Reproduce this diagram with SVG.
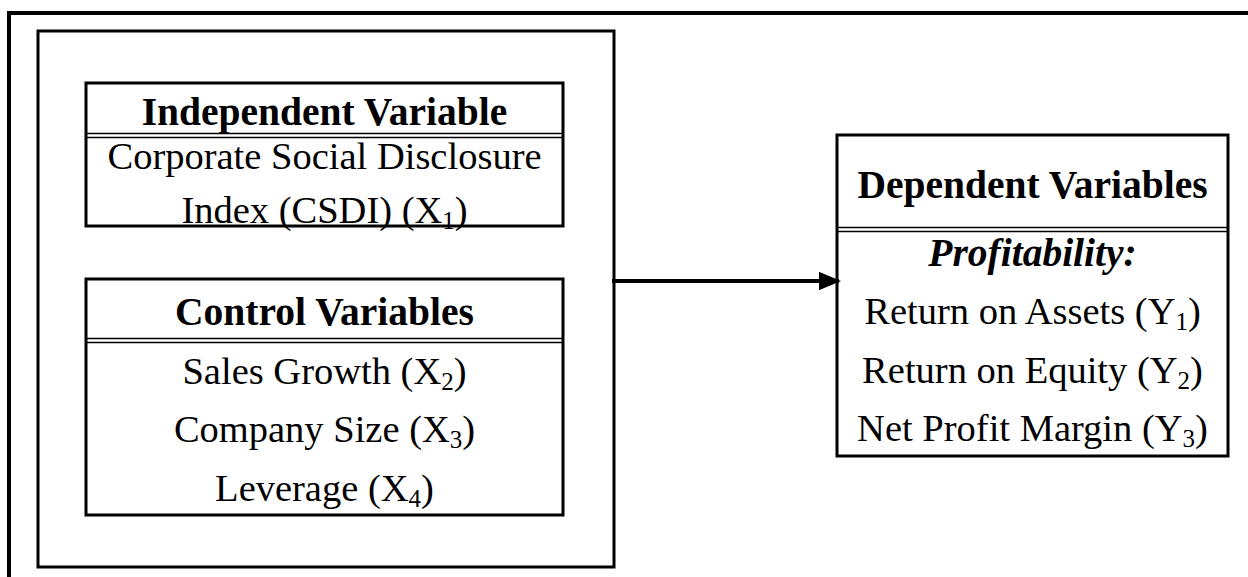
<svg xmlns="http://www.w3.org/2000/svg" width="1248" height="577" viewBox="0 0 1248 577">
  <style>
    .box { fill: #ffffff; stroke: #000000; stroke-width: 3; }
    .sep { stroke: #000000; stroke-width: 1.5; fill: none; }
    .t { font-family: "Liberation Serif", "Times New Roman", serif; font-size: 38.5px; fill: #000000; text-anchor: middle; }
    .b { font-weight: bold; font-size: 39.5px; }
    .bi { font-weight: bold; font-style: italic; font-size: 39.5px; }
    .sub { font-size: 25px; }
    .wire { stroke: #000000; stroke-width: 4; fill: none; }
  </style>
  <defs>
    <marker id="arrow" markerWidth="5.5" markerHeight="4.6" refX="5" refY="2.3" orient="auto" markerUnits="strokeWidth">
      <path d="M0,0 L5.5,2.3 L0,4.6 Z" fill="#000000"/>
    </marker>
  </defs>

  <rect width="1248" height="577" fill="#ffffff"/>

  <!-- outer frame, running past the right and bottom edges -->
  <rect x="9" y="13" width="1260" height="600" fill="none" stroke="#000000" stroke-width="4"/>

  <!-- enclosing box for the explanatory variables -->
  <g id="explanatory-group">
    <rect class="box" x="38" y="31" width="576" height="536"/>
  </g>

  <g id="independent-variable">
    <rect class="box" x="86" y="83" width="477" height="143"/>
    <line class="sep" x1="86" y1="133.5" x2="563" y2="133.5"/>
    <line class="sep" x1="86" y1="137.5" x2="563" y2="137.5"/>
    <text class="t b" x="324.5" y="125">Independent Variable</text>
    <text class="t" x="324.5" y="169">Corporate Social Disclosure</text>
    <text class="t" x="324.5" y="223">Index (CSDI) (X<tspan class="sub" dy="6">1</tspan><tspan dy="-6">)</tspan></text>
  </g>

  <g id="control-variables">
    <rect class="box" x="86" y="279" width="477" height="236"/>
    <line class="sep" x1="86" y1="338.5" x2="563" y2="338.5"/>
    <line class="sep" x1="86" y1="342.5" x2="563" y2="342.5"/>
    <text class="t b" x="324.5" y="325">Control Variables</text>
    <text class="t" x="324.5" y="384">Sales Growth (X<tspan class="sub" dy="6">2</tspan><tspan dy="-6">)</tspan></text>
    <text class="t" x="324.5" y="442">Company Size (X<tspan class="sub" dy="6">3</tspan><tspan dy="-6">)</tspan></text>
    <text class="t" x="324.5" y="501">Leverage (X<tspan class="sub" dy="6">4</tspan><tspan dy="-6">)</tspan></text>
  </g>

  <g id="dependent-variables">
    <rect class="box" x="837" y="135" width="391" height="321"/>
    <line class="sep" x1="837" y1="227.5" x2="1228" y2="227.5"/>
    <line class="sep" x1="837" y1="231.5" x2="1228" y2="231.5"/>
    <text class="t b" x="1032.5" y="198">Dependent Variables</text>
    <text class="t bi" x="1032.5" y="266">Profitability:</text>
    <text class="t" x="1032.5" y="324">Return on Assets (Y<tspan class="sub" dy="6">1</tspan><tspan dy="-6">)</tspan></text>
    <text class="t" x="1032.5" y="383">Return on Equity (Y<tspan class="sub" dy="6">2</tspan><tspan dy="-6">)</tspan></text>
    <text class="t" x="1032.5" y="441">Net Profit Margin (Y<tspan class="sub" dy="6">3</tspan><tspan dy="-6">)</tspan></text>
  </g>

  <g id="connectors">
    <line class="wire" x1="612" y1="281" x2="839" y2="281" marker-end="url(#arrow)"/>
  </g>
</svg>
